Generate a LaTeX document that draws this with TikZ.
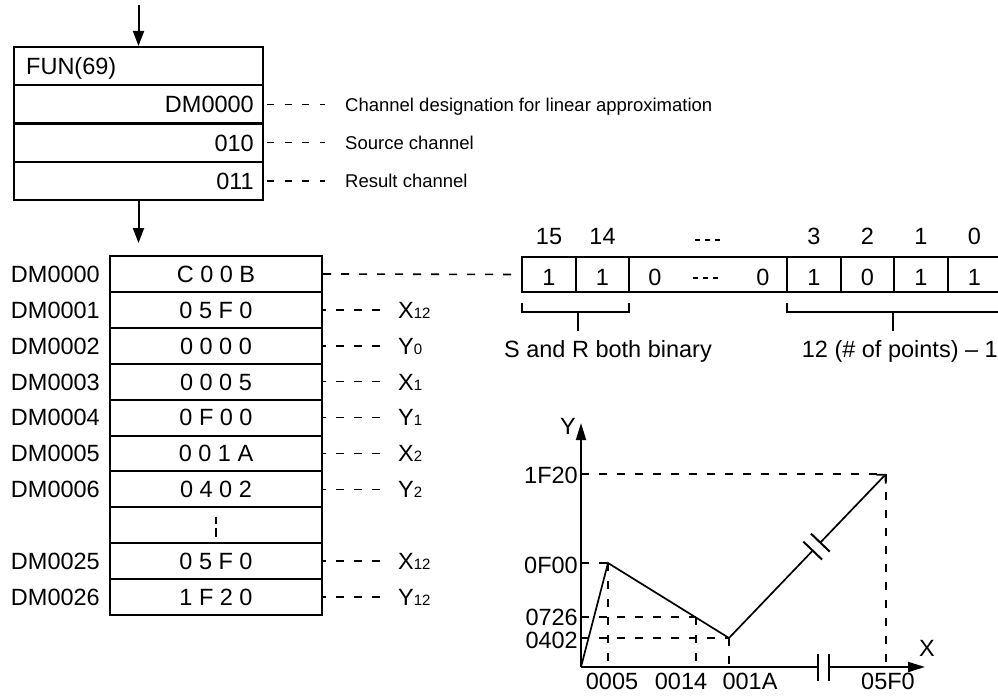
\documentclass[tikz,border=0pt]{standalone}
\usepackage{fontspec}
\setmainfont{Liberation Sans}
\usetikzlibrary{arrows.meta}
\newcommand{\lowidx}[1]{{\fontsize{15}{15}\selectfont #1}}
\begin{document}
\begin{tikzpicture}[x=1pt,y=-1pt,
  txt/.style={inner sep=0pt, font=\fontsize{23.5}{28}\selectfont, text height=16.8pt, text depth=0pt},
  stxt/.style={inner sep=0pt, font=\fontsize{18.5}{22}\selectfont, text height=13.2pt, text depth=0pt},
  box/.style={draw, line width=2pt, inner sep=0pt},
  funrow/.style={box, minimum width=249pt, minimum height=38.25pt},
  dmrow/.style={box, txt, minimum width=212pt, minimum height=35.9pt},
  bitcell/.style={box, txt, text height=21.8pt, minimum height=35pt},
  dsh/.style={line width=1.6pt, dash pattern=on 8pt off 10pt},
  plotline/.style={line width=1.7pt},
  brk/.style={line width=2pt},
  arr/.style={line width=2pt, -{Triangle[length=15pt,width=11pt]}},
  axisarr/.style={line width=2pt, -{Triangle[length=17pt,width=10pt]}},
]
\useasboundingbox (0,0) rectangle (998,696);

% ---------- FUN(69) block ----------
\node[funrow] (f0) at (138.5,66.1) {};
\node[funrow] (f1) at (138.5,104.4) {};
\node[funrow] (f2) at (138.5,142.6) {};
\node[funrow] (f3) at (138.5,180.9) {};
\node[txt, anchor=west] (t0) at (26,66.1) {FUN(69)};
\node[txt, anchor=east] (t1) at (254,104.4) {DM0000};
\node[txt, anchor=east] (t2) at (254,142.6) {010};
\node[txt, anchor=east] (t3) at (254,180.9) {011};

\coordinate (in) at (138.5,5);
\coordinate (out) at (138.5,243);
\draw[arr] (in) -- (f0.north);
\draw[arr] (f3.south) -- (out);

\node[stxt, anchor=west] (c1) at (345,104.4) {Channel designation for linear approximation};
\node[stxt, anchor=west] (c2) at (345,142.6) {Source channel};
\node[stxt, anchor=west] (c3) at (345,180.9) {Result channel};
\foreach \k in {1,2,3}
  \draw[dsh, dash pattern=on 7pt off 10.5pt, dash phase=14.5pt] (f\k.east) -- ([xshift=-20pt]c\k.west);

% ---------- DM table ----------
\foreach \i/\addr/\val in {0/DM0000/C 0 0 B, 1/DM0001/0 5 F 0, 2/DM0002/0 0 0 0,
    3/DM0003/0 0 0 5, 4/DM0004/0 F 0 0, 5/DM0005/0 0 1 A, 6/DM0006/0 4 0 2,
    8/DM0025/0 5 F 0, 9/DM0026/1 F 2 0} {
  \node[dmrow] (d\i) at (216,{256+35.9*(\i+0.5)}) {\val};
  \node[txt, anchor=east] (a\i) at (100,{256+35.9*(\i+0.5)}) {\addr};
}
\node[dmrow] (d7) at (216,{256+35.9*7.5}) {};
\draw[line width=2pt] (216,516.5) -- (216,523.5);
\draw[line width=2pt] (216,528) -- (216,537);

\foreach \i/\s/\k in {1/X/12, 2/Y/0, 3/X/1, 4/Y/1, 5/X/2, 6/Y/2, 8/X/12, 9/Y/12} {
  \node[txt, anchor=west] (s\i) at (398,{256+35.9*(\i+0.5)}) {\s\lowidx{\k}};
  \draw[dsh, dash phase=5pt] (d\i.east) -- ([xshift=-18pt]s\i.west);
}

% ---------- bit register ----------
\node[bitcell, minimum width=54pt] (b15) at (549,274.5) {1};
\node[bitcell, minimum width=53pt] (b14) at (602.5,274.5) {1};
\node[box, minimum width=158pt, minimum height=35pt] (bm) at (708,274.5) {};
\node[bitcell, minimum width=54pt] (b3) at (814,274.5) {1};
\node[bitcell, minimum width=53pt] (b2) at (867.5,274.5) {0};
\node[bitcell, minimum width=54pt] (b1) at (921,274.5) {1};
\node[bitcell, minimum width=53pt] (b0) at (974.5,274.5) {1};
\node[txt] (bz1) at (655,277) {0};
\node[txt] (bz2) at (763,277) {0};
\draw[line width=1.5pt, dash pattern=on 5pt off 5pt] (693,278) -- (718,278);

\draw[dsh] (d0.east) -- (b15.west);

\node[txt] (n15) at (549,236) {15};
\node[txt] (n14) at (602.5,236) {14};
\node[txt] (n3) at (814,236) {3};
\node[txt] (n2) at (867.5,236) {2};
\node[txt] (n1) at (921,236) {1};
\node[txt] (n0) at (974.5,236) {0};
\draw[line width=1.5pt, dash pattern=on 5pt off 5pt] (695,240) -- (720,240);

% brackets
\draw[line width=1.7pt] (522,303) -- (522,312) -- (629,312) -- (629,303);
\draw[line width=1.7pt] (578,312) -- (578,331);
\draw[line width=1.7pt] (787,303) -- (787,312) -- (1005,312);
\draw[line width=1.7pt] (893,312) -- (893,331);
\node[txt] (sr) at (608,349) {S and R both binary};
\node[txt, anchor=east] (np) at (998,349) {12 (\# of points) – 1};

% ---------- graph ----------
\coordinate (O) at (581,667);
\coordinate (ytip) at (581,423);
\coordinate (xb1) at (818,667);
\coordinate (xb2) at (829,667);
\coordinate (xtip) at (925,667);
\coordinate (p1) at (608,563);
\coordinate (q) at (696,617);
\coordinate (p2) at (729,638);
\coordinate (p3) at (886,474);
\coordinate (g1) at (812.7,550.6);
\coordinate (g2) at (820.3,542.6);

% dashed guides
\draw[dsh] (O |- p3) -- (p3);
\draw[dsh] (p3) -- (p3 |- O);
\draw[dsh] (O |- p1) -- (p1);
\draw[dsh] (p1) -- (p1 |- O);
\draw[dsh] (O |- q) -- (q);
\draw[dsh] (q) -- (q |- O);
\draw[dsh] (O |- p2) -- (p2);
\draw[dsh] (p2) -- (p2 |- O);

% axes
\draw[axisarr] (O) -- (ytip);
\draw[line width=2pt] (O) -- (xb1);
\draw[axisarr] (xb2) -- (xtip);
\draw[brk] (818,654) -- (818,681);
\draw[brk] (829,654) -- (829,681);

% polyline
\draw[plotline, line join=miter] (O) -- (p1) -- (p2) -- (g1);
\draw[plotline, -{Straight Barb[length=6pt,width=13pt]}] (g2) -- (p3);
\draw[brk] (803.3,541.6) -- (822.1,559.6);
\draw[brk] (810.9,533.6) -- (829.7,551.6);

% labels
\node[txt] (ly) at (568,426) {Y};
\node[txt] (lx) at (927,648) {X};
\node[txt, anchor=east] (y1) at (578,475) {1F20};
\node[txt, anchor=east] (y2) at (578,565) {0F00};
\node[txt, anchor=east] (y3) at (578,617) {0726};
\node[txt, anchor=east] (y4) at (578,640) {0402};
\node[txt] (x1) at (612,681) {0005};
\node[txt] (x2) at (681,681) {0014};
\node[txt] (x3) at (750,681) {001A};
\node[txt] (x4) at (888,681) {05F0};
\end{tikzpicture}
\end{document}
